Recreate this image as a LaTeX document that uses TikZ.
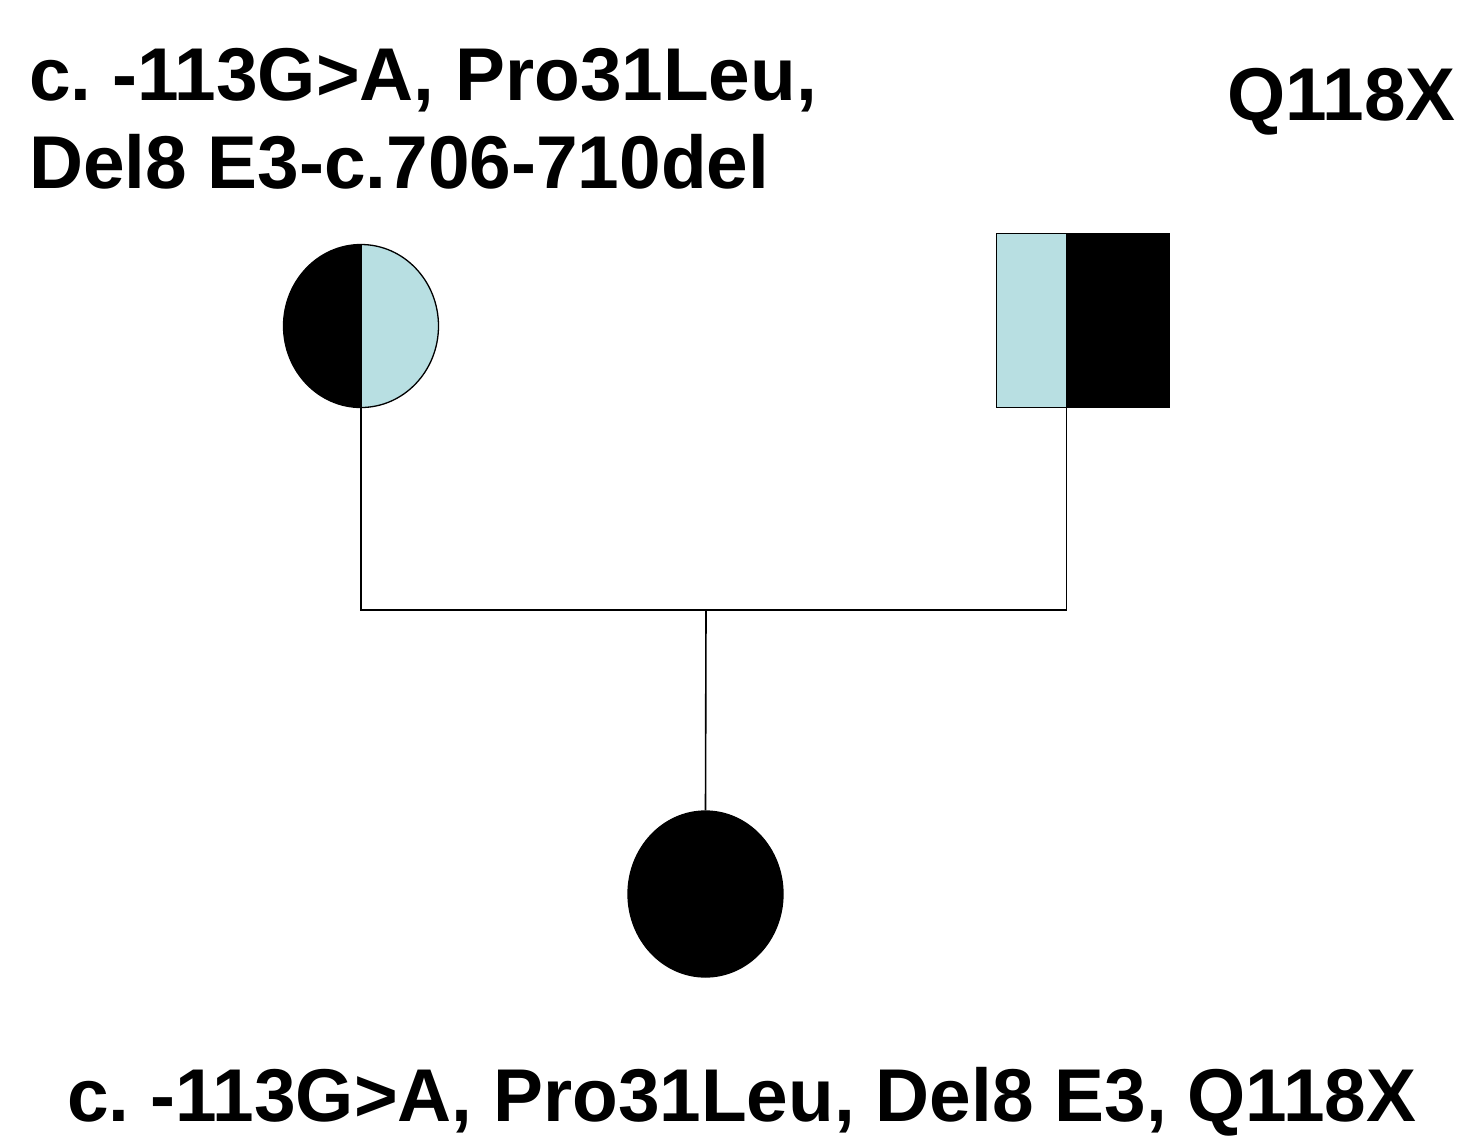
\documentclass[tikz,border=0pt]{standalone}
\usepackage{fontspec}
\setmainfont{Liberation Sans}
\usetikzlibrary{shapes.geometric,calc}
\definecolor{paleblue}{HTML}{B8DFE2}

\begin{document}
\frenchspacing
\begin{tikzpicture}[x=1pt,y=-1pt,
  genotype/.style={font=\fontsize{74.8}{92}\selectfont\bfseries, inner sep=0pt, anchor=base west},
  female/.style={ellipse, draw, line width=1.3pt, minimum width=155pt, minimum height=163pt, inner sep=0pt},
  male/.style={rectangle, draw, line width=1.3pt, minimum width=172pt, minimum height=173pt, inner sep=0pt},
  link/.style={draw, line width=1.6pt}]
  \useasboundingbox (0,0) rectangle (1459,1136);

  % genotype labels
  \node[genotype] (mlabA) at (29,100) {c. -113G>A, Pro31Leu,};
  \node[genotype] (mlabB) at (29,188) {Del8 E3-c.706-710del};
  \node[genotype, anchor=base east] (flab) at (1456,120) {Q118X};
  \node[genotype] (clab) at (67,1121) {c. -113G>A, Pro31Leu, Del8 E3, Q118X};

  % mother: left half black, right half pale blue
  \node[female, path picture={
      \fill[black] (path picture bounding box.south west) rectangle (path picture bounding box.north);
      \fill[paleblue] (path picture bounding box.north) rectangle (path picture bounding box.south east);
    }] (mother) at (361,326) {};
  \draw[line width=1.3pt] (mother.north) -- (mother.south);

  % father: pale blue left part, black right part
  \node[male] (father) at (1083,320.5) {};
  \coordinate (fsplit) at ($(father.south west)+(70,0)$);
  \fill[paleblue] (father.north west) rectangle (fsplit);
  \fill[black] ($(father.north west)+(70,0)$) rectangle (father.south east);
  \draw[line width=1.3pt] (father.north west) rectangle (father.south east);
  \draw[line width=1.3pt] ($(father.north west)+(70,0)$) -- (fsplit);

  % affected child
  \node[female, fill=black, minimum height=166pt] (child) at (705.5,894) {};

  % connectors
  \coordinate (sibship) at (706,610);
  \draw[link] (mother.south) |- (sibship) -| (fsplit);
  \draw[link] (sibship) -- (child.north);
\end{tikzpicture}
\end{document}
